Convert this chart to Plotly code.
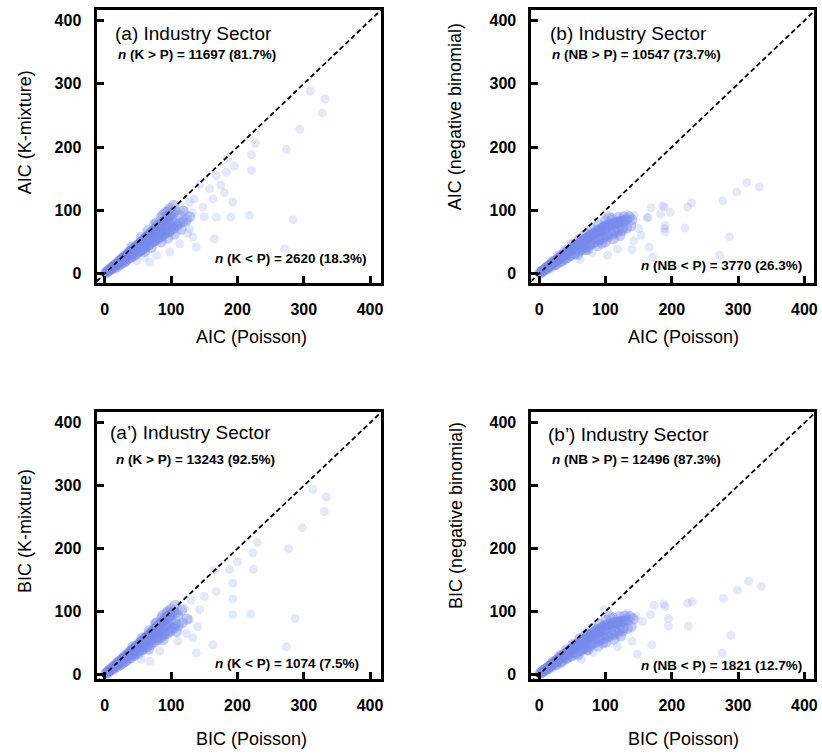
import plotly.graph_objects as go

FONT = "Liberation Sans, Arial, sans-serif"
tick_vals = [0, 100, 200, 300, 400]
tick_text = ["0", "100", "200", "300", "400"]

# ---------------- (a) AIC: Poisson vs K-mixture ----------------
xa_core = [1, 3, 4, 6, 7, 8, 10, 11, 12, 14, 15, 16, 18, 19, 21, 22, 23, 25, 26, 27, 29, 30, 31, 33, 34, 36, 37, 38, 40, 41,
           43, 44, 45, 47, 48, 50, 51, 52, 54, 55, 57, 58, 60, 61, 62, 64, 65, 67, 68, 70, 71, 73, 74, 76, 77, 79, 80, 82, 83, 85,
           87, 88, 90, 92, 94, 96, 98, 100, 103, 106,
           14, 19, 24, 29, 33, 38, 43, 47, 52, 57, 62, 66, 71, 76, 81, 86, 91, 97, 103, 108,
           28, 37, 46, 55, 64, 73, 82, 92, 101, 112, 118, 96, 88, 78,
           5, 9, 13, 17, 20, 24, 28, 32, 35, 39, 42, 46, 49, 53, 56, 59, 63, 66, 69, 72, 75, 78, 81, 84, 89, 93, 97,
           22, 30, 35, 41, 48, 53, 58, 62, 67, 72, 77, 81, 86, 90, 94, 99, 104, 109, 113, 118, 123, 128, 60, 70, 85, 95, 105, 115,
           40, 55, 65, 75, 85, 92, 98, 104]
ya_core = [1, 2, 4, 5, 6, 7, 9, 9, 11, 12, 13, 14, 16, 16, 19, 19, 21, 22, 24, 24, 26, 27, 28, 29, 31, 32, 34, 34, 36, 37,
           39, 39, 41, 42, 44, 45, 46, 47, 49, 49, 52, 52, 55, 55, 57, 58, 60, 61, 63, 63, 66, 66, 69, 68, 72, 71, 74, 75, 77, 77,
           81, 79, 84, 83, 88, 86, 91, 93, 94, 99,
           8, 11, 15, 18, 21, 25, 28, 31, 35, 38, 42, 45, 49, 52, 56, 59, 63, 66, 71, 78,
           21, 29, 37, 45, 52, 60, 68, 76, 84, 92, 99, 99, 93, 80,
           4, 7, 10, 13, 16, 19, 22, 25, 28, 31, 33, 37, 39, 42, 44, 47, 50, 53, 55, 58, 60, 63, 65, 68, 72, 75, 79,
           14, 19, 24, 27, 31, 36, 40, 43, 47, 50, 53, 57, 60, 64, 66, 69, 73, 76, 80, 82, 85, 90, 35, 41, 50, 56, 62, 70,
           42, 57, 68, 78, 89, 97, 103, 108]
xa_out = [310, 332, 328, 294, 274, 227, 221, 221, 218, 284, 271, 183, 195, 168, 180, 193, 190, 163, 148, 128, 128, 138,
          165, 113, 133, 123, 168, 143, 158, 98, 68, 78, 120, 135, 110, 150, 175, 185, 125, 132, 60, 48]
ya_out = [288, 276, 254, 228, 196, 206, 188, 163, 92, 85, 39, 160, 170, 155, 128, 113, 89, 118, 105, 113, 71, 42,
          55, 47, 58, 81, 89, 141, 134, 34, 18, 29, 100, 118, 75, 90, 140, 182, 64, 96, 26, 20]

# ---------------- (b) AIC: Poisson vs negative binomial ----------------
xb_core = [1, 3, 4, 6, 7, 9, 10, 12, 13, 15, 16, 18, 19, 21, 22, 24, 25, 27, 28, 30, 31, 33, 34, 36, 37, 39, 40, 42, 43, 45,
           46, 48, 49, 51, 52, 54, 55, 57, 58, 60, 62, 64, 66, 68, 70, 72, 74, 76, 78, 80, 82, 84, 86, 88, 90, 92, 94, 96, 98, 100,
           103, 106, 109, 112, 115, 118, 121, 124, 128, 132,
           12, 18, 24, 30, 36, 42, 48, 54, 60, 66, 72, 78, 84, 90, 96, 102, 108, 114, 120, 126, 70, 95,
           20, 30, 40, 50, 60, 70, 80, 90, 100, 110, 120, 128, 136, 140, 105,
           5, 9, 14, 17, 23, 26, 32, 35, 41, 44, 50, 53, 59, 63, 67, 71, 75, 79, 83, 87, 91, 95, 99, 104, 110, 117, 125,
           25, 33, 40, 47, 55, 62, 69, 76, 83, 90, 97, 104, 111, 118, 125, 132, 138, 58, 73, 88, 100, 112, 122]
yb_core = [1, 2, 3, 5, 6, 7, 8, 10, 11, 12, 13, 15, 15, 17, 18, 20, 20, 22, 23, 24, 25, 27, 27, 29, 30, 31, 32, 34, 34, 36,
           37, 38, 39, 41, 41, 43, 43, 45, 46, 47, 49, 50, 52, 53, 55, 56, 58, 59, 61, 62, 63, 65, 66, 67, 69, 70, 71, 72, 74, 75,
           76, 78, 78, 80, 80, 82, 82, 83, 84, 85,
           7, 10, 14, 18, 21, 25, 29, 32, 36, 39, 43, 47, 50, 54, 57, 60, 64, 66, 70, 72, 38, 48,
           19, 28, 37, 46, 54, 62, 70, 77, 84, 87, 89, 90, 90, 85, 90,
           4, 7, 11, 13, 18, 20, 25, 27, 31, 34, 38, 40, 44, 47, 50, 53, 56, 58, 61, 64, 66, 68, 70, 73, 76, 79, 81,
           14, 19, 24, 28, 32, 37, 41, 45, 49, 53, 56, 59, 62, 65, 68, 72, 75, 30, 38, 44, 50, 55, 60]
xb_out = [313, 332, 298, 277, 230, 224, 186, 198, 183, 169, 163, 220, 190, 190, 287, 272, 166, 171, 143, 140, 118, 103,
          143, 133, 150, 189, 164, 189, 154, 80, 62]
yb_out = [144, 137, 129, 115, 112, 105, 107, 97, 94, 104, 88, 72, 76, 66, 58, 29, 42, 26, 52, 38, 39, 29,
          92, 94, 71, 105, 89, 71, 60, 33, 22]

# ---------------- (a') BIC: Poisson vs K-mixture ----------------
xap_core = [2, 3, 5, 6, 7, 9, 10, 11, 13, 14, 15, 17, 18, 20, 21, 22, 24, 25, 26, 28, 29, 30, 32, 33, 35, 36, 37, 39, 40, 42,
            43, 44, 46, 47, 49, 50, 51, 53, 54, 56, 57, 59, 60, 61, 63, 64, 66, 67, 69, 70, 72, 73, 75, 76, 78, 79, 81, 82, 84, 86,
            87, 89, 91, 93, 95, 97, 99, 101, 104, 107,
            13, 18, 23, 28, 32, 37, 42, 46, 51, 56, 61, 65, 70, 75, 80, 85, 90, 96, 102, 107,
            27, 36, 45, 54, 63, 72, 81, 91, 100, 110, 116, 95, 87, 77,
            4, 8, 12, 16, 19, 23, 27, 31, 34, 38, 41, 45, 48, 52, 55, 58, 62, 65, 68, 71, 74, 77, 80, 83, 88, 92, 96,
            24, 32, 39, 45, 51, 57, 63, 69, 74, 79, 84, 89, 94, 99, 105, 111, 117, 124, 66, 88, 108,
            42, 56, 67, 77, 86, 94, 100, 106]
yap_core = [2, 3, 4, 6, 6, 8, 9, 10, 12, 13, 14, 15, 17, 18, 20, 20, 22, 23, 24, 26, 27, 28, 30, 31, 33, 33, 35, 36, 38, 39,
            41, 41, 43, 44, 46, 47, 48, 50, 51, 53, 54, 55, 57, 57, 60, 60, 63, 63, 66, 66, 69, 69, 72, 72, 75, 74, 78, 77, 81, 82,
            83, 85, 88, 88, 92, 91, 96, 95, 100, 98,
            8, 12, 15, 19, 22, 26, 30, 33, 37, 40, 44, 47, 51, 55, 58, 62, 66, 69, 74, 80,
            22, 30, 38, 46, 54, 62, 70, 78, 86, 94, 102, 100, 94, 82,
            3, 7, 10, 13, 16, 19, 23, 26, 28, 32, 34, 38, 40, 43, 46, 48, 52, 54, 57, 59, 62, 64, 67, 69, 73, 77, 80,
            16, 21, 26, 30, 34, 39, 43, 47, 51, 55, 58, 62, 65, 69, 74, 78, 82, 88, 40, 55, 68,
            44, 58, 70, 80, 90, 98, 104, 110]
xap_out = [314, 334, 331, 298, 277, 230, 223, 224, 220, 287, 274, 200, 188, 193, 168, 193, 193, 150, 165, 143, 140, 133,
           138, 163, 128, 110, 123, 68, 83, 120, 130, 55]
yap_out = [294, 282, 259, 233, 200, 210, 193, 167, 96, 89, 44, 179, 167, 145, 132, 120, 95, 124, 166, 103, 76, 58,
           34, 47, 87, 53, 65, 21, 37, 105, 118, 24]

# ---------------- (b') BIC: Poisson vs negative binomial ----------------
xbp_core = [2, 3, 5, 6, 8, 9, 11, 12, 14, 15, 17, 18, 20, 21, 23, 24, 26, 27, 29, 30, 32, 33, 35, 36, 38, 39, 41, 42, 44, 45,
            47, 48, 50, 51, 53, 54, 56, 57, 59, 61, 63, 65, 67, 69, 71, 73, 75, 77, 79, 81, 83, 85, 87, 89, 91, 93, 95, 97, 99, 101,
            104, 107, 110, 113, 116, 119, 122, 126, 130, 134,
            13, 19, 25, 31, 37, 43, 49, 55, 61, 67, 73, 79, 85, 91, 97, 103, 109, 115, 121, 127, 72, 96,
            21, 31, 41, 51, 61, 71, 81, 91, 101, 111, 121, 129, 137, 142, 106,
            6, 10, 15, 18, 24, 27, 33, 36, 42, 45, 51, 54, 60, 64, 68, 72, 76, 80, 84, 88, 92, 96, 100, 105, 111, 118, 126,
            26, 34, 41, 48, 56, 63, 70, 77, 84, 91, 98, 105, 112, 119, 126, 133, 139, 59, 74, 89, 101, 113, 123]
ybp_core = [2, 3, 4, 5, 7, 8, 9, 10, 12, 13, 14, 15, 17, 18, 19, 20, 22, 23, 24, 25, 27, 28, 29, 30, 32, 32, 34, 35, 37, 37,
            39, 40, 42, 42, 44, 45, 47, 47, 49, 51, 52, 54, 55, 57, 58, 60, 61, 63, 64, 66, 67, 68, 70, 71, 72, 73, 75, 76, 77, 78,
            79, 80, 81, 82, 83, 84, 84, 85, 86, 86,
            8, 12, 16, 19, 23, 27, 30, 34, 38, 41, 45, 49, 52, 56, 59, 62, 65, 68, 71, 74, 40, 50,
            20, 30, 39, 48, 57, 65, 73, 80, 86, 90, 92, 93, 92, 88, 93,
            5, 8, 12, 14, 19, 21, 26, 28, 33, 35, 40, 42, 46, 49, 52, 55, 58, 60, 63, 66, 68, 70, 72, 75, 78, 81, 83,
            15, 20, 25, 29, 33, 38, 42, 46, 50, 54, 57, 60, 63, 66, 69, 73, 76, 31, 39, 45, 51, 56, 61]
xbp_out = [316, 335, 299, 278, 231, 224, 190, 188, 173, 168, 195, 195, 225, 289, 276, 170, 140, 118, 148, 133, 146, 156, 98,
           82, 64]
ybp_out = [148, 140, 134, 121, 116, 113, 108, 112, 110, 95, 89, 77, 77, 62, 34, 47, 53, 44, 32, 97, 92, 84, 103,
           35, 24]

diag = [-30, 430]

panels = [
    dict(ax="", core=(xa_core, ya_core), out=(xa_out, ya_out)),
    dict(ax="2", core=(xb_core, yb_core), out=(xb_out, yb_out)),
    dict(ax="3", core=(xap_core, yap_core), out=(xap_out, yap_out)),
    dict(ax="4", core=(xbp_core, ybp_core), out=(xbp_out, ybp_out)),
]

PT = "rgb(118,138,236)"
fig = go.Figure()
for p in panels:
    xr, yr = "x" + p["ax"], "y" + p["ax"]
    fig.add_trace(go.Scatter(x=p["out"][0], y=p["out"][1], mode="markers", xaxis=xr, yaxis=yr,
                             marker=dict(size=9, color=PT, opacity=0.2, line=dict(width=0)), hoverinfo="skip"))
    fig.add_trace(go.Scatter(x=p["core"][0], y=p["core"][1], mode="markers", xaxis=xr, yaxis=yr,
                             marker=dict(size=11, color=PT, opacity=0.42, line=dict(width=0)), hoverinfo="skip"))
    fig.add_trace(go.Scatter(x=diag, y=diag, mode="lines", xaxis=xr, yaxis=yr,
                             line=dict(color="black", width=1.8, dash="5px,3px"), hoverinfo="skip"))

W, H = 822, 755
def dx(a, b):
    return [a / W, b / W]
def dy(top, bot):
    return [1 - bot / H, 1 - top / H]

axis_common = dict(showgrid=False, zeroline=False, showline=True, linewidth=3, linecolor="black", mirror=True,
                   ticks="inside", ticklen=7, tickwidth=2.5, tickcolor="black",
                   tickmode="array", tickvals=tick_vals, ticktext=tick_text,
                   tickfont=dict(family=FONT, size=16, color="black", weight="bold"),
                   ticklabelstandoff=9)

layout_axes = {
    "xaxis": dict(domain=dx(97, 383), range=[-12.5, 416.7], anchor="y", **axis_common),
    "yaxis": dict(domain=dy(10, 285), range=[-15.7, 416.7], anchor="x", **axis_common),
    "xaxis2": dict(domain=dx(534, 818), range=[-11.6, 414.5], anchor="y2", **axis_common),
    "yaxis2": dict(domain=dy(10, 285), range=[-15.7, 416.7], anchor="x2", **axis_common),
    "xaxis3": dict(domain=dx(97, 383), range=[-12.5, 416.7], anchor="y3", **axis_common),
    "yaxis3": dict(domain=dy(414, 683), range=[-7.9, 417.5], anchor="x3", **axis_common),
    "xaxis4": dict(domain=dx(534, 818), range=[-11.6, 414.5], anchor="y4", **axis_common),
    "yaxis4": dict(domain=dy(414, 683), range=[-7.9, 417.5], anchor="x4", **axis_common),
}

ann = []
def panel_text(ax, title, tx, ty, up, ux, uy, down, rx, ry):
    ann.append(dict(xref="x" + ax, yref="y" + ax, x=tx, y=ty, text=title, showarrow=False, xanchor="left",
                    yanchor="middle", font=dict(family=FONT, size=19, color="black")))
    ann.append(dict(xref="x" + ax, yref="y" + ax, x=ux, y=uy, text=up, showarrow=False, xanchor="left",
                    yanchor="middle", font=dict(family=FONT, size=13.5, color="black")))
    ann.append(dict(xref="x" + ax, yref="y" + ax, x=rx, y=ry, text=down, showarrow=False, xanchor="right",
                    yanchor="middle", font=dict(family=FONT, size=13.5, color="black")))

panel_text("", "(a) Industry Sector", 11.6, 380, "<b><i>n</i> (K &gt; P) = 11697 (81.7%)</b>", 16.5, 346,
           "<b><i>n</i> (K &lt; P) = 2620 (18.3%)</b>", 398, 23.6)
panel_text("2", "(b) Industry Sector", 13.5, 380, "<b><i>n</i> (NB &gt; P) = 10547 (73.7%)</b>", 17, 346,
           "<b><i>n</i> (NB &lt; P) = 3770 (26.3%)</b>", 400, 13)
panel_text("3", "(a\u2019) Industry Sector", 4.5, 384, "<b><i>n</i> (K &gt; P) = 13243 (92.5%)</b>", 13.5, 342,
           "<b><i>n</i> (K &lt; P) = 1074 (7.5%)</b>", 387, 18)
panel_text("4", "(b\u2019) Industry Sector", 11, 382, "<b><i>n</i> (NB &gt; P) = 12496 (87.3%)</b>", 17, 342,
           "<b><i>n</i> (NB &lt; P) = 1821 (12.7%)</b>", 399, 14.7)

def axis_title(text, px, py, angle=0):
    ann.append(dict(xref="paper", yref="paper", x=px / W, y=1 - py / H, text=text, showarrow=False,
                    xanchor="center", yanchor="middle", textangle=angle,
                    font=dict(family=FONT, size=18, color="black")))

axis_title("AIC (Poisson)", 253, 339)
axis_title("AIC (Poisson)", 687, 339)
axis_title("BIC (Poisson)", 253, 743)
axis_title("BIC (Poisson)", 687, 743)
axis_title("AIC (K-mixture)", 25, 133, -90)
axis_title("AIC (negative binomial)", 458, 117, -90)
axis_title("BIC (K-mixture)", 25, 534, -90)
axis_title("BIC (negative binomial)", 458, 518, -90)

fig.update_layout(width=W, height=H, margin=dict(l=0, r=0, t=0, b=0), showlegend=False,
                  plot_bgcolor="white", paper_bgcolor="white", annotations=ann, **layout_axes)

fig.write_html("out.html", config={"displayModeBar": False},
               post_script="document.body.style.margin='0';document.body.style.overflow='hidden';")
